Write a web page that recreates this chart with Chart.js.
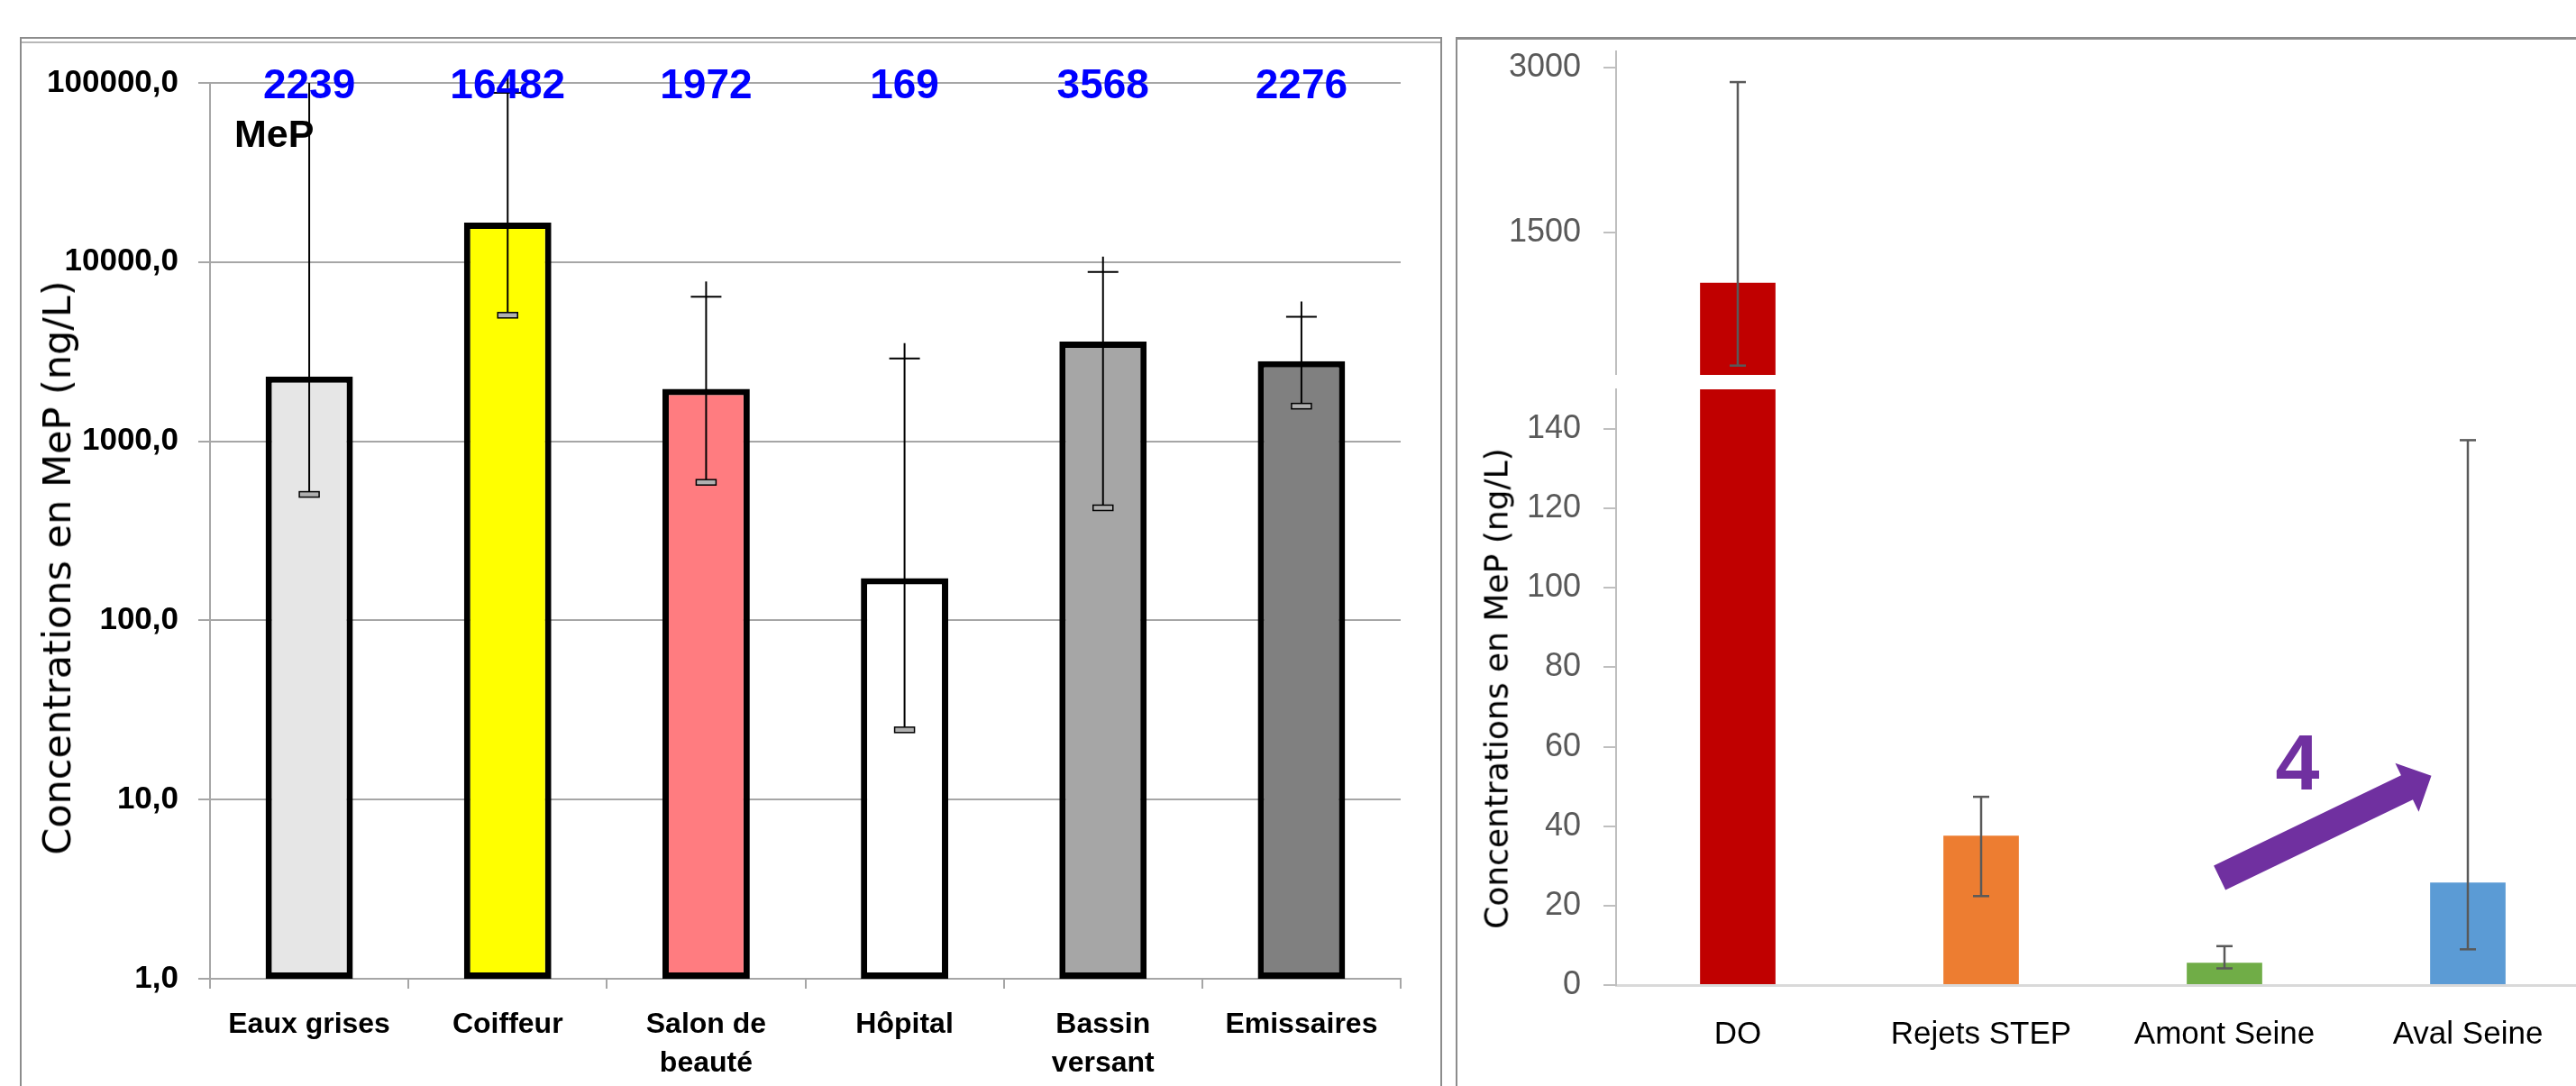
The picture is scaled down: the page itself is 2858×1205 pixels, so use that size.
<!DOCTYPE html>
<html lang="fr">
<head>
<meta charset="utf-8">
<title>Concentrations en MeP</title>
<script src="https://cdn.jsdelivr.net/npm/chart.js@4.4.1/dist/chart.umd.min.js"></script>
<style>
  html, body { margin: 0; padding: 0; background: #fff; width: 2858px; height: 1205px; overflow: hidden; position: relative; }
  canvas { position: absolute; }
  .frame { position: absolute; box-sizing: border-box; }
  .ytitle { position: absolute; white-space: nowrap; font-family: 'DejaVu Sans', sans-serif; color: #000;
            transform: translate(-50%, -50%) rotate(-90deg); }
</style>
</head>
<body>
<div class="frame" style="left:22px; top:41px; width:1578px; height:1300px; border:2px solid #8c8c8c; border-bottom:none;"></div>
<div class="frame" style="left:24px; top:46px; width:1574px; height:0; border-top:2px solid #b8b8b8;"></div>
<div class="frame" style="left:1615px; top:41px; width:1400px; height:1300px; border-left:2px solid #8c8c8c; border-top:3px solid #8c8c8c;"></div>

<canvas id="leftChart" width="1598" height="1205" style="left:0; top:0;"></canvas>
<canvas id="rightTop" width="1280" height="416" style="left:1600px; top:0;"></canvas>
<canvas id="rightBottom" width="1280" height="825" style="left:1600px; top:380px;"></canvas>

<div class="ytitle" style="left:63px; top:630px; font-size:43px;">Concentrations en MeP (ng/L)</div>
<div class="ytitle" style="left:1660px; top:764px; font-size:36px;">Concentrations en MeP (ng/L)</div>

<script>
// ─── Data: left panel (log scale) ─────────────────────────────────────────────
const leftCategories  = ['Eaux grises', 'Coiffeur', ['Salon de', 'beauté'], 'Hôpital', ['Bassin', 'versant'], 'Emissaires'];
const leftBarValues   = [2300, 16600, 1960, 172, 3600, 2800];
const leftLowValues   = [505, 5050, 590, 24.5, 425, 1570];
const leftHighValues  = [150000, 88000, 6400, 2900, 8800, 4950];
const leftLabelValues = ['2239', '16482', '1972', '169', '3568', '2276'];
const leftColors      = ['#E6E6E6', '#FFFF00', '#FF7C80', '#FFFFFF', '#A6A6A6', '#808080'];
const leftTicks       = [1, 10, 100, 1000, 10000, 100000];

// ─── Data: right panel (broken linear axis) ───────────────────────────────────
const rightCategories = ['DO', 'Rejets STEP', 'Amont Seine', 'Aval Seine'];
const rightValues     = [1040, 37.6, 5.6, 25.8];
const rightLowValues  = [285, 22.4, 4.2, 9.0];
const rightHighValues = [2870, 47.4, 9.8, 137.2];
const rightColors     = ['#C00000', '#ED7D31', '#70AD47', '#5B9BD5'];
const upperTicks      = [1500, 3000];
const lowerTicks      = [0, 20, 40, 60, 80, 100, 120, 140];

// arrow annotation, in [category index, value]
const arrowFrom   = [1.98, 27.0];
const arrowTo     = [2.85, 52.7];
const arrowText   = '4';
const arrowTextAt = [2.3, 49.2];

Chart.defaults.font.family = "'Liberation Sans', Arial, sans-serif";
Chart.defaults.animation = false;

// ─── Plugins ──────────────────────────────────────────────────────────────────

const errorBars = {
  id: 'errorBars',
  afterDatasetsDraw(chart, args, opts) {
    const { ctx, chartArea } = chart;
    const y = chart.scales.y;
    const meta = chart.getDatasetMeta(0);
    ctx.save();
    if (opts.clip) {
      ctx.beginPath();
      ctx.rect(chartArea.left, chartArea.top, chartArea.width, chartArea.height);
      ctx.clip();
    }
    ctx.strokeStyle = opts.color;
    meta.data.forEach((bar, i) => {
      const x = bar.x;
      const lo = opts.low[i], hi = opts.high[i];
      const clipped = hi > y.max;
      const yLo = y.getPixelForValue(lo);
      const yHi = clipped ? chartArea.top : y.getPixelForValue(hi);
      ctx.lineWidth = opts.lineWidth;
      ctx.beginPath();
      ctx.moveTo(x, yLo);
      ctx.lineTo(x, clipped ? yHi : yHi - opts.overshoot);
      ctx.stroke();
      if (!clipped) {
        ctx.beginPath();
        ctx.moveTo(x - opts.capHalf, yHi);
        ctx.lineTo(x + opts.capHalf, yHi);
        ctx.stroke();
      }
      if (opts.boxCap) {
        ctx.fillStyle = '#b0b0b0';
        ctx.fillRect(x - 11, yLo - 3, 22, 6);
        ctx.lineWidth = 1.5;
        ctx.strokeRect(x - 11, yLo - 3, 22, 6);
      } else {
        ctx.beginPath();
        ctx.moveTo(x - opts.capHalf, yLo);
        ctx.lineTo(x + opts.capHalf, yLo);
        ctx.stroke();
      }
    });
    ctx.restore();
  },
};

const valueLabels = {
  id: 'valueLabels',
  afterDraw(chart, args, opts) {
    const { ctx, chartArea } = chart;
    const meta = chart.getDatasetMeta(0);
    ctx.save();
    ctx.fillStyle = '#0000FF';
    ctx.font = "bold 46px 'Liberation Sans', Arial, sans-serif";
    ctx.textAlign = 'center';
    ctx.textBaseline = 'alphabetic';
    meta.data.forEach((bar, i) => ctx.fillText(opts.labels[i], bar.x, chartArea.top + 17));
    ctx.fillStyle = '#000';
    ctx.font = "bold 43px 'Liberation Sans', Arial, sans-serif";
    ctx.textAlign = 'left';
    ctx.fillText(opts.title, chartArea.left + 27, chartArea.top + 71);
    ctx.restore();
  },
};

const arrowNote = {
  id: 'arrowNote',
  afterDraw(chart, args, opts) {
    const { ctx } = chart;
    const xs = chart.scales.x, ys = chart.scales.y;
    const px = p => [xs.getPixelForValue(p[0]), ys.getPixelForValue(p[1])];
    const [tx, ty] = px(opts.from);
    const [hx, hy] = px(opts.to);
    const len = Math.hypot(hx - tx, hy - ty);
    const ux = (hx - tx) / len, uy = (hy - ty) / len;
    const nx = -uy, ny = ux;
    const bx = hx - ux * 30, by = hy - uy * 30;
    const sw = 15, hw = 30;
    ctx.save();
    ctx.fillStyle = '#7030A0';
    ctx.beginPath();
    ctx.moveTo(tx + nx * sw, ty + ny * sw);
    ctx.lineTo(bx + nx * sw, by + ny * sw);
    ctx.lineTo(bx + nx * hw, by + ny * hw);
    ctx.lineTo(hx, hy);
    ctx.lineTo(bx - nx * hw, by - ny * hw);
    ctx.lineTo(bx - nx * sw, by - ny * sw);
    ctx.lineTo(tx - nx * sw, ty - ny * sw);
    ctx.closePath();
    ctx.fill();
    const [lx, ly] = px(opts.textAt);
    ctx.font = "bold 88px 'Liberation Sans', Arial, sans-serif";
    ctx.textAlign = 'center';
    ctx.textBaseline = 'alphabetic';
    ctx.fillText(opts.text, lx, ly);
    ctx.restore();
  },
};

// fixed y-axis width, no label overflow padding (plot edges are set by layout)
const fixRightAxis = s => { s.width = 193; s.paddingTop = 0; s.paddingBottom = 0; };

// ─── Left chart ───────────────────────────────────────────────────────────────

new Chart(document.getElementById('leftChart'), {
  type: 'bar',
  data: {
    labels: leftCategories,
    datasets: [{
      data: leftBarValues,
      backgroundColor: leftColors,
      borderColor: '#000',
      borderWidth: 7,
      borderSkipped: false,
      barPercentage: 0.44,
      categoryPercentage: 1,
    }],
  },
  plugins: [errorBars, valueLabels],
  options: {
    responsive: false,
    devicePixelRatio: 1,
    layout: { padding: { top: 92, right: 44, left: 0, bottom: 0 } },
    plugins: {
      legend: { display: false },
      tooltip: { enabled: false },
      errorBars: { low: leftLowValues, high: leftHighValues, color: '#000', lineWidth: 2, capHalf: 17, overshoot: 17, boxCap: true, clip: false },
      valueLabels: { labels: leftLabelValues, title: 'MeP' },
    },
    scales: {
      x: {
        grid: { offset: true, drawOnChartArea: false, color: '#A6A6A6', lineWidth: 2, tickLength: 11 },
        border: { color: '#A6A6A6', width: 2 },
        ticks: { color: '#000', font: { weight: 'bold', size: 32, lineHeight: 1.36 }, padding: 18, maxRotation: 0, autoSkip: false },
        afterFit: s => { s.height = 119; },
      },
      y: {
        type: 'logarithmic',
        min: 1,
        max: 100000,
        afterBuildTicks: s => { s.ticks = leftTicks.map(v => ({ value: v })); },
        grid: { color: '#A6A6A6', lineWidth: 2, tickLength: 13 },
        border: { color: '#A6A6A6', width: 2 },
        ticks: {
          color: '#000',
          font: { weight: 'bold', size: 35 },
          padding: 22,
          callback: v => Number(v).toFixed(1).replace('.', ','),
        },
        afterFit: s => { s.width = 233; },
      },
    },
  },
});

// ─── Right chart: upper segment ───────────────────────────────────────────────

const rightTickFont = { size: 36 };

new Chart(document.getElementById('rightTop'), {
  type: 'bar',
  data: {
    labels: rightCategories,
    datasets: [{ data: rightValues, backgroundColor: rightColors, borderWidth: 0, barPercentage: 0.31, categoryPercentage: 1, clip: 0 }],
  },
  plugins: [errorBars],
  options: {
    responsive: false,
    devicePixelRatio: 1,
    layout: { padding: { top: 57, right: 7, left: 0, bottom: 0 } },
    plugins: {
      legend: { display: false },
      tooltip: { enabled: false },
      errorBars: { low: rightLowValues, high: rightHighValues, color: '#595959', lineWidth: 2.5, capHalf: 9, overshoot: 0, boxCap: false, clip: true },
    },
    scales: {
      x: { display: false },
      y: {
        min: 200,
        max: 3150,
        afterBuildTicks: s => { s.ticks = upperTicks.map(v => ({ value: v })); },
        grid: { drawOnChartArea: false, color: '#BFBFBF', lineWidth: 2, tickLength: 14 },
        border: { color: '#BFBFBF', width: 2 },
        ticks: { color: '#595959', font: rightTickFont, padding: 25, callback: v => String(v) },
        afterFit: fixRightAxis,
      },
    },
  },
});

// ─── Right chart: lower segment ───────────────────────────────────────────────

new Chart(document.getElementById('rightBottom'), {
  type: 'bar',
  data: {
    labels: rightCategories,
    datasets: [{ data: rightValues, backgroundColor: rightColors, borderWidth: 0, barPercentage: 0.31, categoryPercentage: 1, clip: 0 }],
  },
  plugins: [errorBars, arrowNote],
  options: {
    responsive: false,
    devicePixelRatio: 1,
    layout: { padding: { top: 52, right: 7, left: 0, bottom: 0 } },
    plugins: {
      legend: { display: false },
      tooltip: { enabled: false },
      errorBars: { low: rightLowValues, high: rightHighValues, color: '#595959', lineWidth: 2.5, capHalf: 9, overshoot: 0, boxCap: false, clip: true },
      arrowNote: { from: arrowFrom, to: arrowTo, text: arrowText, textAt: arrowTextAt },
    },
    scales: {
      x: {
        grid: { display: false, drawTicks: false },
        border: { color: '#D9D9D9', width: 3 },
        ticks: { color: '#000', font: { size: 35 }, padding: 34, maxRotation: 0, autoSkip: false },
        afterFit: s => { s.height = 112; },
      },
      y: {
        min: 0,
        max: 150,
        afterBuildTicks: s => { s.ticks = lowerTicks.map(v => ({ value: v })); },
        grid: { drawOnChartArea: false, color: '#BFBFBF', lineWidth: 2, tickLength: 14 },
        border: { color: '#BFBFBF', width: 2 },
        ticks: { color: '#595959', font: rightTickFont, padding: 25, callback: v => String(v) },
        afterFit: fixRightAxis,
      },
    },
  },
});
</script>
</body>
</html>
